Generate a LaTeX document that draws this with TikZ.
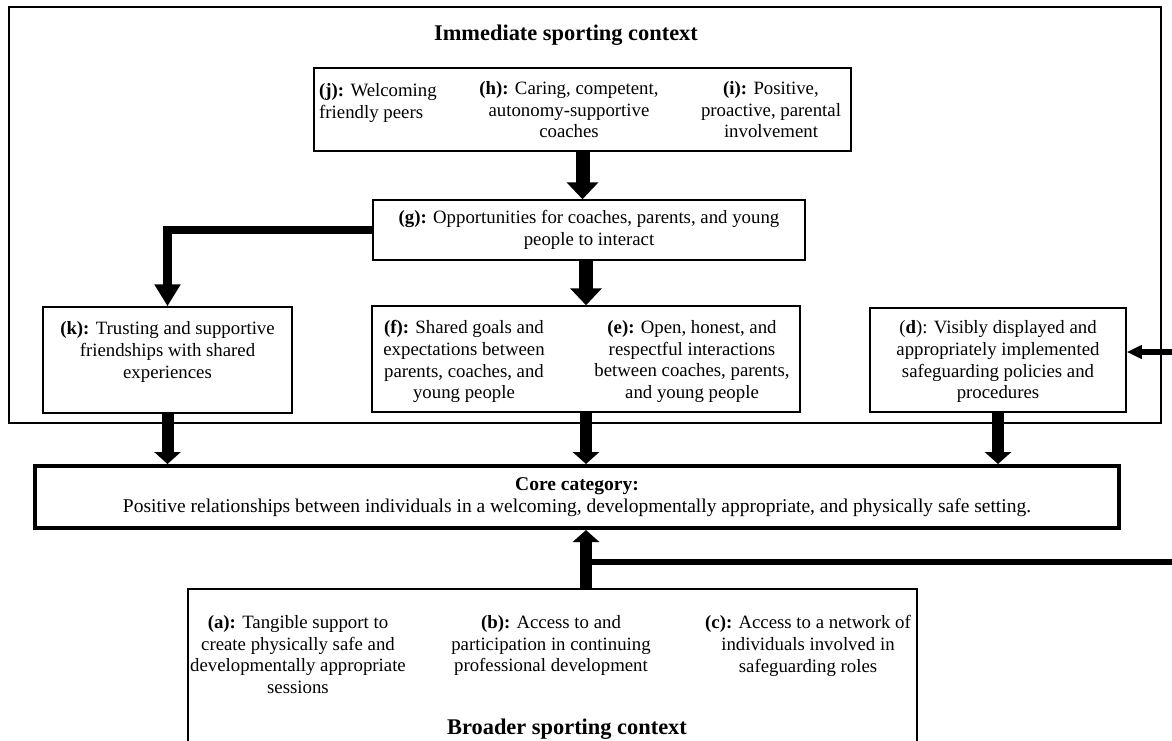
\documentclass[tikz,border=0pt]{standalone}
\usepackage{fontspec}
\setmainfont{Liberation Serif}
\usetikzlibrary{arrows.meta,positioning}

\begin{document}
\begin{tikzpicture}
[x=1pt,y=-1pt,
  boxDecorate/.style={draw,line width=1.5pt,inner sep=0pt},
  ctxDecorate/.style={draw,line width=2pt,inner sep=0pt},
  coreDecorate/.style={draw,line width=4pt,inner sep=0pt,align=center,
    font=\fontsize{19.5}{22}\selectfont},
  textDecorate/.style={inner sep=0pt,align=center,font=\fontsize{18.8}{21.8}\selectfont},
  titleDecorate/.style={inner sep=0pt,font=\fontsize{22.4}{24}\selectfont\bfseries},
  bigArrow/.style={-{Triangle[width=31pt,length=17pt]},line width=14pt},
  midArrow/.style={-{Triangle[width=26pt,length=12pt]},line width=12pt},
  bendArrow/.style={-{Triangle[width=25pt,length=22pt]},line width=8.5pt},
  sideArrow/.style={-{Triangle[width=13pt,length=15pt]},line width=6pt}]
\useasboundingbox (0,0) rectangle (1172,741);
%% boxes
\foreach \nodename/\x/\y/\w/\h in {
  immediate/585/215/1152/416, top/582.5/109.5/537/83, k/167.5/360/249/106,
  fe/586/359/428/106, d/998/360/256/104, broader/552.5/675/729/172}
{
  \node[boxDecorate,minimum width=\w,minimum height=\h] (\nodename) at (\x,\y) {};
}
\node[ctxDecorate,minimum width=1152,minimum height=416] at (immediate) {};
\node[boxDecorate,textDecorate,minimum width=432,minimum height=60] (g) at (589,230)
  {\textbf{(g):} Opportunities for coaches, parents, and young\\people to interact};
\node[coreDecorate,minimum width=1084,minimum height=62] (core) at (577,497)
  {\textbf{Core category:}\\Positive relationships between individuals in a welcoming, developmentally appropriate, and physically safe setting.};
%% titles
\node[titleDecorate] (immTitle) at (566,35) {Immediate sporting context};
\node[titleDecorate] (broadTitle) at (567,729) {Broader sporting context};
%% texts
\node[textDecorate,anchor=north west,align=left] (jtxt) at (319,83)
  {\textbf{(j):} Welcoming\\friendly peers};
\node[textDecorate,anchor=north] (htxt) at (569,81)
  {\textbf{(h):} Caring, competent,\\autonomy-supportive\\coaches};
\node[textDecorate,anchor=north] (itxt) at (771,81)
  {\textbf{(i):} Positive,\\proactive, parental\\involvement};
\node[textDecorate,below=15pt of k.north] (ktxt)
  {\textbf{(k):} Trusting and supportive\\friendships with shared\\experiences};
\node[textDecorate,anchor=north] (ftxt) at (464,320)
  {\textbf{(f):} Shared goals and\\expectations between\\parents, coaches, and\\young people};
\node[textDecorate,anchor=north] (etxt) at (692,320)
  {\textbf{(e):} Open, honest, and\\respectful interactions\\between coaches, parents,\\and young people};
\node[textDecorate,below=13pt of d.north] (dtxt)
  {(\textbf{d}): Visibly displayed and\\appropriately implemented\\safeguarding policies and\\procedures};
\node[textDecorate,anchor=north] (atxt) at (298,615)
  {\textbf{(a):} Tangible support to\\create physically safe and\\developmentally appropriate\\sessions};
\node[textDecorate,anchor=north] (btxt) at (551,615)
  {\textbf{(b):} Access to and\\participation in continuing\\professional development};
\node[textDecorate,anchor=north] (ctxt) at (808,615)
  {\textbf{(c):} Access to a network of\\individuals involved in\\safeguarding roles};
%% arrows
\coordinate (split) at (588,562);
\coordinate (offRight) at (1190,562);
\draw[bigArrow] (top.south) -- (top.south |- g.north);
\draw[bigArrow] (fe.north |- g.south) -- (fe.north);
\draw[bendArrow] (g.west) -| (k.north);
\foreach \startnode in {k,fe,d}
{
  \draw[midArrow] (\startnode.south) -- (\startnode.south |- core.north);
}
\draw[midArrow] (fe.south |- broader.north) -- (fe.south |- core.south);
\draw[sideArrow] (split) -- (offRight) |- ([yshift=8pt]d.east);
\end{tikzpicture}
\end{document}
